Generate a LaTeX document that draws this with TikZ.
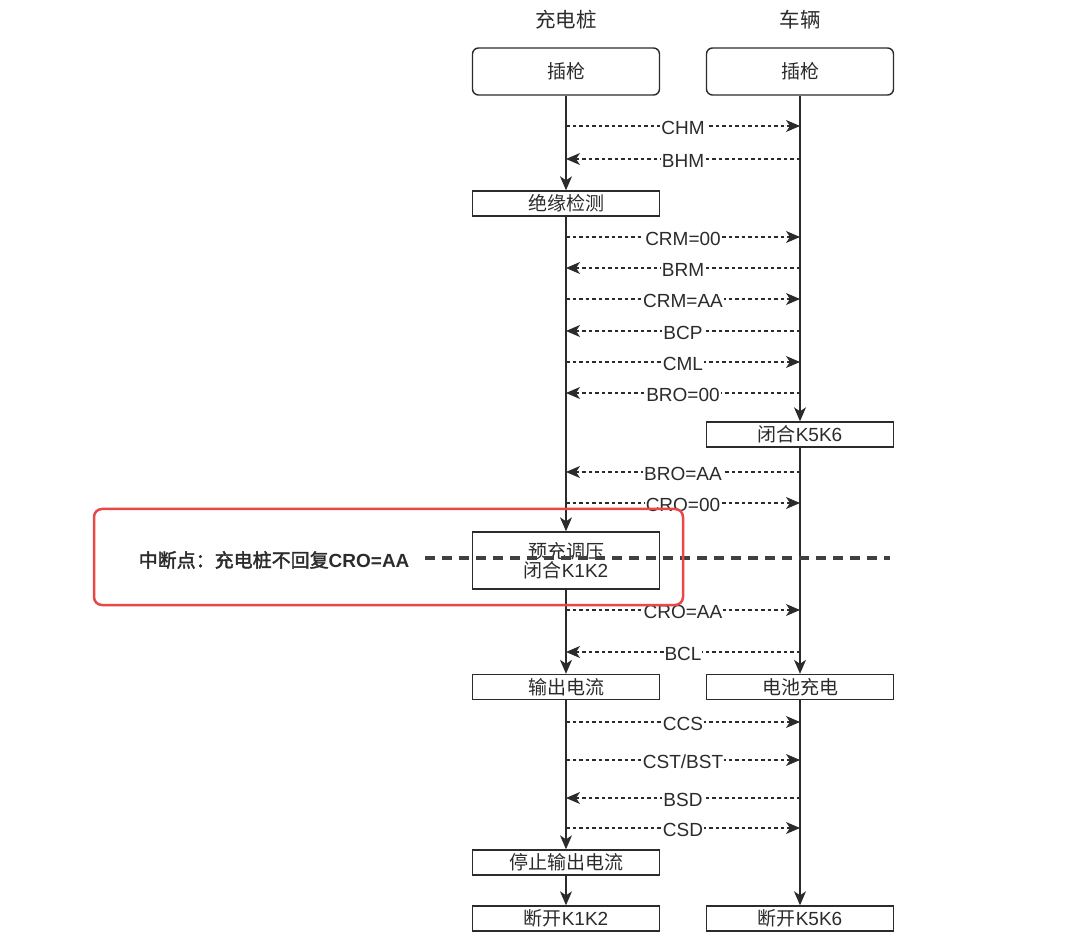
\documentclass[tikz,border=0pt]{standalone}
\usepackage{fontspec}
\setmainfont{Liberation Sans}
\newfontfamily\cjk[AutoFakeBold=2]{Noto Sans CJK SC}
\usepackage{tikz}
\usetikzlibrary{arrows.meta}
\definecolor{inkgray}{HTML}{2B2B2B}
\definecolor{alertred}{HTML}{E8484A}
\tikzstyle{box} = [draw=inkgray, line width=1.4pt, minimum width=187pt, minimum height=25pt, inner sep=0pt, font=\fontsize{19}{22}\selectfont, text=inkgray]
\tikzstyle{start} = [box, rounded corners=6pt, minimum height=47pt]
\tikzstyle{flow} = [line width=1.4pt, draw=inkgray, -{Stealth[length=14pt,width=12pt,inset=4pt]}]
\tikzstyle{msg} = [line width=1.1pt, draw=inkgray, dash pattern=on 3.5pt off 3pt, -{Stealth[length=14pt,width=12pt,inset=4pt]}]
\tikzstyle{lbl} = [fill=white, inner sep=1pt, yshift=-2pt, font=\fontsize{19}{22}\selectfont, text=inkgray]
\tikzstyle{head} = [font=\cjk\fontsize{20.5}{24}\selectfont, text=inkgray]
\tikzstyle{alert} = [draw=alertred, line width=2.5pt, rounded corners=8pt]
\tikzstyle{cut} = [line width=4pt, draw=inkgray!90, dash pattern=on 10pt off 7pt]

\begin{document}
\begin{tikzpicture}[x=1pt,y=-1pt]
\useasboundingbox (0,0) rectangle (1080,949);
\node[head] (hl) at (566,20) {充电桩};
\node[head] (hr) at (800,20) {车辆};
\node[start] (plugL) at (566,71.5) {\cjk 插枪};
\node[start] (plugR) at (800,71.5) {\cjk 插枪};
\node[box] (insul) at (566,203.5) {\cjk 绝缘检测};
\node[box] (k56on) at (800,434.5) {{\cjk 闭合}K5K6};
\node[box, minimum height=57pt, align=center] (pre) at (566,560.5) {{\cjk 预充调压}\\[-3pt]{\cjk 闭合}K1K2};
\node[box] (outL) at (566,687) {\cjk 输出电流};
\node[box] (chgR) at (800,687) {\cjk 电池充电};
\node[box] (stop) at (566,862.5) {\cjk 停止输出电流};
\node[box] (k12off) at (566,918.5) {{\cjk 断开}K1K2};
\node[box] (k56off) at (800,918.5) {{\cjk 断开}K5K6};

\draw[flow] (plugL) -- (insul);
\draw[flow] (insul) -- (pre);
\draw[flow] (pre) -- (outL);
\draw[flow] (outL) -- (stop);
\draw[flow] (stop) -- (k12off);
\draw[flow] (plugR) -- (k56on);
\draw[flow] (k56on) -- (chgR);
\draw[flow] (chgR) -- (k56off);

\foreach \y/\t in {126/CHM, 237/CRM=00, 299/CRM=AA, 362/CML, 503/CRO=00, 610/CRO=AA, 722/CCS, 760/{CST/BST}, 828/CSD} {
  \coordinate (cl\y) at (566,\y);
  \coordinate (cr\y) at (800,\y);
  \draw[msg] (cl\y) -- node[lbl] {\t} (cr\y);
}
\foreach \y/\t in {159/BHM, 268/BRM, 331/BCP, 393/BRO=00, 472/BRO=AA, 652/BCL, 798/BSD} {
  \coordinate (cl\y) at (566,\y);
  \coordinate (cr\y) at (800,\y);
  \draw[msg] (cr\y) -- node[lbl] {\t} (cl\y);
}

\coordinate (cutA) at (425,558);
\coordinate (cutB) at (890,558);
\draw[cut] (cutA) -- (cutB);
\node[anchor=east, font=\bfseries\fontsize{19}{22}\selectfont, text=inkgray] (note) at (413,560) {{\cjk\bfseries 中断点：充电桩不回复}CRO=AA};
\node[alert, minimum width=589pt, minimum height=96pt] (brk) at (388.5,557) {};
\end{tikzpicture}
\end{document}
